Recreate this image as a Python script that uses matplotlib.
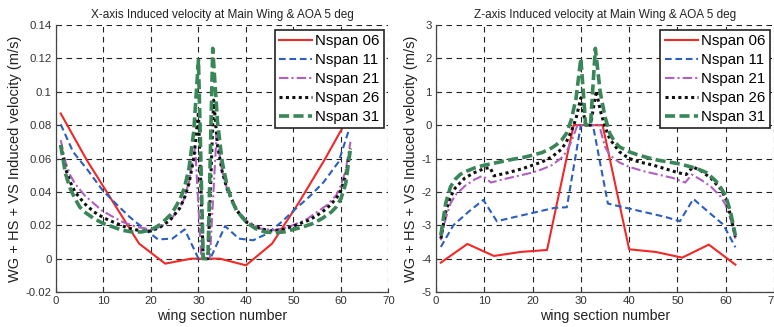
import numpy as np
import matplotlib
matplotlib.use("Agg")
import matplotlib.pyplot as plt

plt.rcParams['font.family'] = ['Liberation Sans', 'DejaVu Sans']

# ---- data ----
labels = ["Nspan 06", "Nspan 11", "Nspan 21", "Nspan 26", "Nspan 31"]

x06 = [1, 6.5, 12, 17.5, 23, 28.5, 34.5, 40, 45.5, 51, 56.5, 62]
vx06 = [0.087, 0.059, 0.034, 0.009, -0.003, 0.0, 0.0, -0.004, 0.009, 0.033, 0.059, 0.087]
vz06 = [-4.12, -3.56, -3.92, -3.8, -3.74, 0.0, 0.0, -3.72, -3.8, -3.97, -3.58, -4.18]

x11 = [1, 3.6, 6.7, 9.8, 12.6, 15.5, 18.5, 21.5, 24.5, 27.1, 30, 32.5,
       35.6, 38.5, 41.5, 44.5, 47.5, 50.5, 53.3, 56.4, 59.5, 62]
vx11 = [0.0805, 0.064, 0.053, 0.041, 0.033, 0.025, 0.018, 0.0115, 0.012, 0.0175, 0.0, 0.0,
        0.0195, 0.012, 0.011, 0.015, 0.022, 0.030, 0.037, 0.046, 0.058, 0.080]
vz11 = [-3.65, -3.0, -2.6, -2.24, -2.88, -2.78, -2.68, -2.58, -2.48, -2.46, 0.0, 0.0,
        -2.35, -2.45, -2.55, -2.65, -2.75, -2.88, -2.21, -2.6, -2.98, -3.66]

x21 = [1, 2, 3, 4, 6, 8, 9.6, 11.4, 14, 17, 20, 22, 24, 26, 27, 28, 29.3, 30.6, 32.4,
       33.8, 35, 36, 38, 40, 43, 46, 49, 51.6, 53, 55, 57, 59, 60, 61, 62]
vx21 = [0.071, 0.058, 0.050, 0.045, 0.038, 0.033, 0.029, 0.026, 0.022, 0.019, 0.0175,
        0.019, 0.023, 0.030, 0.036, 0.046, 0.067, 0.0, 0.0,
        0.074, 0.052, 0.042, 0.030, 0.023, 0.018, 0.017, 0.019, 0.022, 0.024, 0.028,
        0.032, 0.038, 0.044, 0.053, 0.070]
vz21 = [-3.45, -2.8, -2.35, -2.1, -1.82, -1.63, -1.52, -1.72, -1.62, -1.52, -1.42,
        -1.32, -1.2, -0.98, -0.8, -0.5, 0.0, 0.0, 0.0,
        0.0, -0.65, -0.9, -1.12, -1.25, -1.38, -1.48, -1.58, -1.72, -1.48, -1.65,
        -1.85, -2.15, -2.4, -2.8, -3.4]

x26 = [1, 2, 3, 4, 6, 8, 10, 11.2, 12, 15, 18, 20, 22, 24, 26, 27, 28, 29, 30, 31, 32,
       33.2, 34, 35, 36, 38, 40, 42, 45, 48, 50, 51.8, 53.2, 55, 57, 59, 60, 61, 62]
vx26 = [0.068, 0.054, 0.046, 0.040, 0.033, 0.028, 0.0245, 0.023, 0.022, 0.0185, 0.0165,
        0.0165, 0.019, 0.023, 0.030, 0.036, 0.045, 0.060, 0.088, 0.0, 0.0,
        0.095, 0.068, 0.052, 0.042, 0.029, 0.022, 0.019, 0.0165, 0.0175, 0.0195, 0.0215,
        0.023, 0.026, 0.030, 0.036, 0.041, 0.050, 0.066]
vz26 = [-3.4, -2.6, -2.15, -1.88, -1.58, -1.42, -1.3, -1.27, -1.52, -1.42, -1.3, -1.2,
        -1.1, -0.95, -0.72, -0.5, -0.2, 0.2, 0.82, 0.0, 0.0,
        1.03, 0.45, -0.05, -0.42, -0.8, -1.0, -1.1, -1.2, -1.33, -1.42, -1.48, -1.25,
        -1.38, -1.6, -1.92, -2.2, -2.7, -3.35]

x31 = [1, 2, 3, 4, 5, 6, 8, 10, 12, 14, 16, 18, 20, 22, 24, 25, 26, 27, 28, 29, 30, 31,
       32, 33, 34, 35, 36, 37, 38, 40, 42, 44, 46, 48, 50, 52, 54, 56, 58, 59, 60, 61, 62]
vx31 = [0.068, 0.051, 0.042, 0.036, 0.031, 0.028, 0.024, 0.021, 0.019, 0.017, 0.016,
        0.016, 0.0172, 0.0205, 0.026, 0.030, 0.035, 0.042, 0.054, 0.076, 0.119, 0.0,
        0.0, 0.126, 0.082, 0.058, 0.044, 0.035, 0.029, 0.022, 0.018, 0.016, 0.0155,
        0.016, 0.0175, 0.019, 0.021, 0.024, 0.028, 0.031, 0.036, 0.045, 0.066]
vz31 = [-3.3, -2.35, -1.85, -1.62, -1.48, -1.4, -1.28, -1.2, -1.14, -1.08, -1.02, -0.97,
        -0.9, -0.82, -0.68, -0.58, -0.45, -0.25, 0.15, 0.8, 2.0, 0.0,
        0.0, 2.3, 1.0, 0.25, -0.25, -0.5, -0.65, -0.8, -0.9, -0.98, -1.05,
        -1.1, -1.15, -1.22, -1.3, -1.42, -1.68, -1.88, -2.12, -2.6, -3.3]

xs = [x06, x11, x21, x26, x31]
vx = [vx06, vx11, vx21, vx26, vx31]
vz = [vz06, vz11, vz21, vz26, vz31]

styles = [
    dict(color='#f02828', lw=1.5, ls='-'),
    dict(color='#2a5fbf', lw=1.5, ls=(0, (3.2, 1.8))),
    dict(color='#b060c0', lw=1.5, ls=(0, (4.5, 1.5, 1, 1.5))),
    dict(color='#111111', lw=2.2, ls=(0, (1, 1.1))),
    dict(color='#3a8658', lw=2.6, ls=(0, (2.8, 1.2))),
]

fig = plt.figure(figsize=(7.74, 3.27), dpi=100)
ax1 = fig.add_axes([0.0723, 0.107, 0.4296, 0.8165])
ax2 = fig.add_axes([0.5633, 0.107, 0.4367, 0.8165])


def setup(ax, title, ylim, yticks, yticklabels):
    ax.set_xlim(0, 70)
    ax.set_ylim(*ylim)
    ax.set_xticks(range(0, 71, 10))
    ax.set_yticks(yticks)
    ax.set_yticklabels(yticklabels)
    ax.grid(True, color='#222222', ls=(0, (5, 4)), lw=0.8)
    ax.spines['top'].set_visible(False)
    ax.spines['right'].set_visible(False)
    for s in ('left', 'bottom'):
        ax.spines[s].set_color('#444444')
        ax.spines[s].set_linewidth(0.9)
    ax.tick_params(direction='in', length=3, labelsize=8.2, colors='#333333', pad=3)
    ax.set_title(title, fontsize=8.5, pad=5, color='#222222')
    ax.set_xlabel("wing section number", fontsize=10.2, labelpad=2, color='#222222')
    ax.set_ylabel("WG + HS + VS Induced velocity (m/s)", fontsize=10.5, labelpad=3,
                  color='#222222')


for x, v, st, lab in zip(xs, vx, styles, labels):
    ax1.plot(x, v, label=lab, **st)
for x, v, st, lab in zip(xs, vz, styles, labels):
    ax2.plot(x, v, label=lab, **st)

yt1 = [-0.02, 0, 0.02, 0.04, 0.06, 0.08, 0.1, 0.12, 0.14]
setup(ax1, "X-axis Induced velocity at Main Wing & AOA 5 deg", (-0.02, 0.14), yt1,
      ["-0.02", "0", "0.02", "0.04", "0.06", "0.08", "0.1", "0.12", "0.14"])
yt2 = list(range(-5, 4))
setup(ax2, "Z-axis Induced velocity at Main Wing & AOA 5 deg", (-5, 3), yt2,
      [str(t) for t in yt2])

for ax in (ax1, ax2):
    leg = ax.legend(loc='upper right', fontsize=10.8, handlelength=2.2,
                    borderpad=0.3, labelspacing=0.33, handletextpad=0.2,
                    borderaxespad=0.3, fancybox=False, framealpha=1)
    leg.get_frame().set_edgecolor('#222222')
    leg.get_frame().set_linewidth(1.2)

fig.savefig("out.png", dpi=100)
